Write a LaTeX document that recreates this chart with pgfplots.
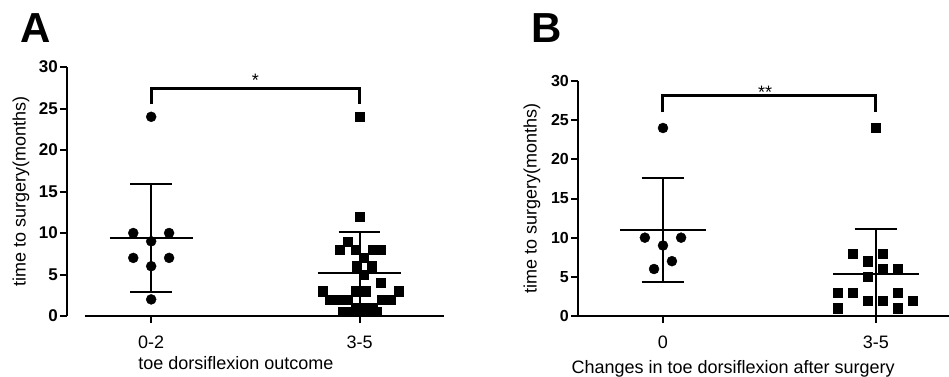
\documentclass[border=0pt]{standalone}
\usepackage{fontspec}
\setmainfont{Liberation Sans}
\usepackage{pgfplots}
\pgfplotsset{compat=1.18}
\pgfplotsset{
  gp/.style={
    scale only axis, clip=false,
    ymin=0, ymax=30,
    axis x line*=bottom, axis y line*=left,
    x axis line style={draw=none},
    y axis line style={line width=2bp},
    xtick={0,1}, ytick={0,5,...,30},
    tick align=outside, major tick length=7bp,
    tick style={line width=2bp, black},
    /pgf/number format/assume math mode=true,
    xticklabel style={anchor=base, inner sep=0pt, yshift=-25.8bp, font=\fontsize{18bp}{20bp}\selectfont},
    yticklabel style={anchor=east, inner sep=0pt, xshift=-2bp},
    xlabel style={anchor=base, font=\fontsize{18bp}{20bp}\selectfont},
    ylabel style={anchor=center, font=\fontsize{18bp}{20bp}\selectfont},
  },
  ln/.style={line width=2bp, black, mark=none},
  br/.style={line width=3bp, black, mark=none, line join=miter},
}
\begin{document}
\begin{tikzpicture}[x=1bp,y=1bp]
\useasboundingbox (0,0) rectangle (949,376);
\node[font=\bfseries\fontsize{42bp}{42bp}\selectfont, anchor=base, inner sep=0pt] at (36,334) {A};
\node[font=\bfseries\fontsize{42bp}{42bp}\selectfont, anchor=base, inner sep=0pt] at (547,334) {B};

% ---------------- Panel A
\begin{axis}[gp,
  at={(67bp,60bp)}, anchor=south west,
  width=378bp, height=249bp,
  xmin=-0.404, xmax=1.41,
  xticklabels={0-2,3-5},
  yticklabel style={font=\bfseries\fontsize{17bp}{17bp}\selectfont},
  xlabel={toe dorsiflexion outcome},
  xlabel style={at={(axis description cs:0.447,0)}, yshift=-53bp},
  ylabel={time to surgery(months)},
  ylabel style={at={(axis description cs:-0.1217,0.5)}},
]
\addplot[ln] coordinates {(-0.32,0) (1.407,0)};
\addplot[only marks, mark=*, mark size=5bp, black] coordinates {
(0,24) (-0.086,10) (0.086,10) (0,9) (-0.086,7) (0.086,7) (0,6) (0,2)};
\addplot[only marks, mark=square*, mark size=4.6bp, black] coordinates {
(1,24) (1,12) (0.943,9) (0.904,8) (0.981,8) (1.062,8) (1.100,8) (1.019,7)
(0.986,6) (1.057,6) (1.019,5) (1.100,4) (0.823,3) (0.981,3) (1.029,3) (1.187,3)
(0.856,2) (0.900,2) (0.943,2) (1.105,2) (1.148,2) (0.981,1) (1.019,1) (1.062,1)
(0.919,0.5) (0.957,0.5) (1.081,0.5)};
% mean and SD, group 0-2
\addplot[ln] coordinates {(-0.2,9.4) (0.2,9.4)};
\addplot[ln] coordinates {(0,2.9) (0,15.9)};
\addplot[ln] coordinates {(-0.1,2.9) (0.1,2.9)};
\addplot[ln] coordinates {(-0.1,15.9) (0.1,15.9)};
% mean and SD, group 3-5
\addplot[ln] coordinates {(0.8,5.2) (1.2,5.2)};
\addplot[ln] coordinates {(1,0.3) (1,10.1)};
\addplot[ln] coordinates {(0.9,0.3) (1.1,0.3)};
\addplot[ln] coordinates {(0.9,10.1) (1.1,10.1)};
% significance bracket
\addplot[br] coordinates {(0,25.5) (0,27.4) (1,27.4) (1,25.5)};
\node[anchor=base, inner sep=0pt, font=\fontsize{18bp}{20bp}\selectfont] at (axis cs:0.5,27.6) {*};
\end{axis}

% ---------------- Panel B
\begin{axis}[gp,
  at={(578bp,60bp)}, anchor=south west,
  width=371bp, height=235bp,
  xmin=-0.399, xmax=1.343,
  xticklabels={0,3-5},
  yticklabel style={font=\bfseries\fontsize{16bp}{16bp}\selectfont},
  xlabel={Changes in toe dorsiflexion after surgery},
  xlabel style={at={(axis description cs:0.418,0)}, yshift=-57bp},
  ylabel={time to surgery(months)},
  ylabel style={at={(axis description cs:-0.124,0.5)}},
]
\addplot[ln] coordinates {(-0.427,0) (1.343,0)};
\addplot[only marks, mark=*, mark size=5bp, black] coordinates {
(0,24) (-0.085,10) (0.085,10) (0,9) (0.042,7) (-0.042,6)};
\addplot[only marks, mark=square*, mark size=4.6bp, black] coordinates {
(1,24) (0.892,8) (1.033,8) (0.962,7) (1.033,6) (1.103,6) (0.962,5)
(0.822,3) (0.892,3) (1.103,3) (0.962,2) (1.033,2) (1.174,2) (0.822,1) (1.103,1)};
% mean and SD, group 0
\addplot[ln] coordinates {(-0.2,11.0) (0.2,11.0)};
\addplot[ln] coordinates {(0,4.4) (0,17.6)};
\addplot[ln] coordinates {(-0.1,4.4) (0.1,4.4)};
\addplot[ln] coordinates {(-0.1,17.6) (0.1,17.6)};
% mean and SD, group 3-5
\addplot[ln] coordinates {(0.8,5.4) (1.2,5.4)};
\addplot[ln] coordinates {(1,0) (1,11.1)};
\addplot[ln] coordinates {(0.9,11.1) (1.1,11.1)};
% significance bracket
\addplot[br] coordinates {(0,26.0) (0,28.2) (1,28.2) (1,26.0)};
\node[anchor=base, inner sep=0pt, font=\fontsize{18bp}{20bp}\selectfont] at (axis cs:0.48,27.8) {**};
\end{axis}
\end{tikzpicture}
\end{document}
